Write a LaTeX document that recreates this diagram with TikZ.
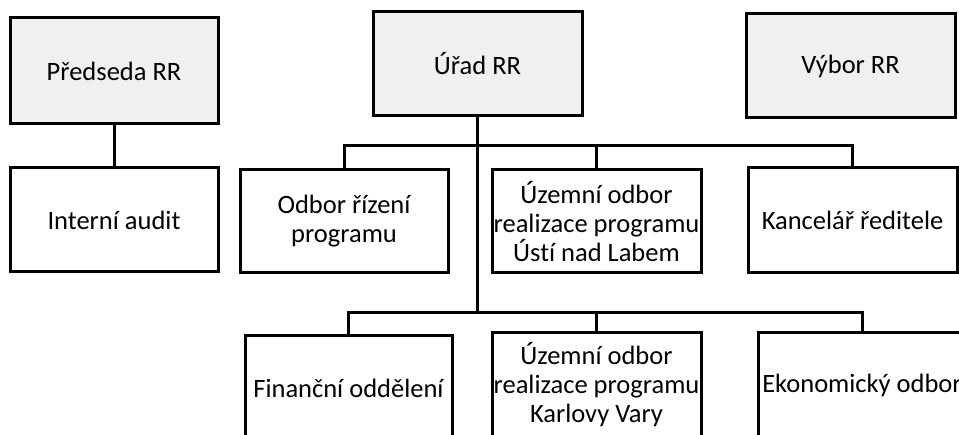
\documentclass[tikz,border=0pt]{standalone}
\usepackage{fontspec}
\setmainfont[Ligatures=NoCommon]{Carlito}
\begin{document}
\begin{tikzpicture}[x=1pt,y=-1pt,
  box/.style={draw=black, line width=3pt, fill=white, inner sep=0pt, align=center,
    font=\fontsize{26.5}{29}\selectfont, anchor=center},
  topbox/.style={box, fill=gray!12},
  conn/.style={draw=black, line width=3pt}]
\useasboundingbox (0,0) rectangle (959,435);
\clip (0,0) rectangle (959,435);
\fill[white] (0,0) rectangle (959,435);
\node[topbox, minimum width=208pt, minimum height=106pt] (pred) at (114,71) {Předseda RR};
\node[box, minimum width=208pt, minimum height=104pt] (audit) at (114,220) {Interní audit};
\node[topbox, minimum width=209pt, minimum height=104pt] (urad) at (477.5,64) {Úřad RR};
\node[topbox, minimum width=209pt, minimum height=104pt] (vybor) at (850.5,66) {Výbor RR};
\node[box, minimum width=208pt, minimum height=103pt] (odbor) at (344,221.5) {Odbor řízení\\programu};
\node[box, minimum width=209pt, minimum height=103pt] (uzul) at (596.5,221.5) {Územní odbor\\realizace programu\\Ústí nad Labem};
\node[box, minimum width=209pt, minimum height=105pt] (kanc) at (852.5,220.5) {Kancelář ředitele};
\node[box, minimum width=207pt, minimum height=104pt] (fin) at (348.5,388) {Finanční oddělení};
\node[box, minimum width=209pt, minimum height=104pt] (uzkv) at (596.5,385) {Územní odbor\\realizace programu\\Karlovy Vary};
\node[box, minimum width=208pt, minimum height=104pt] (eko) at (862,385) {Ekonomický odbor};
\coordinate (bus1) at (477.5,146);
\coordinate (bus2) at (477.5,313);
\draw[conn] (pred.south) -- (audit.north);
\draw[conn] (urad.south) -- (bus2);
\draw[conn] (odbor.north) -- (odbor.north |- bus1) -- (kanc.north |- bus1) -- (kanc.north);
\draw[conn] (uzul.north) -- (uzul.north |- bus1);
\draw[conn] (fin.north) -- (fin.north |- bus2) -- (eko.north |- bus2) -- (eko.north);
\draw[conn] (uzkv.north) -- (uzkv.north |- bus2);
\end{tikzpicture}
\end{document}
